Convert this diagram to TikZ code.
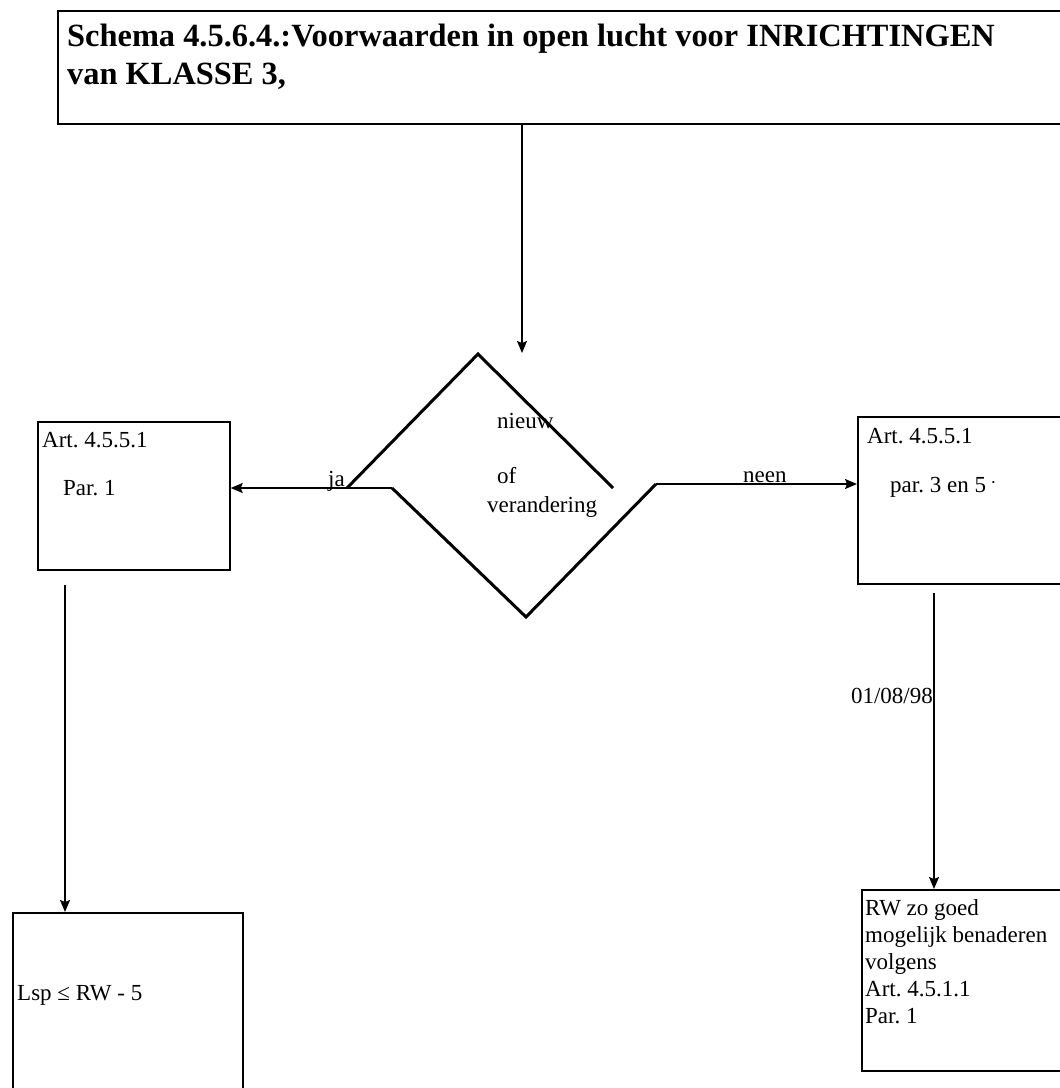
\documentclass[tikz,border=0pt]{standalone}
\usepackage{fontspec}
\setmainfont{Liberation Serif}
\usetikzlibrary{arrows.meta,calc}
\frenchspacing
\tikzset{
  kader/.style={draw=black,line width=1.7pt,inner sep=0pt,anchor=north west}, % box
  pijl/.style={-{Stealth[length=12pt,width=10pt,inset=2pt]},line width=1.6pt}, % connector
  ruitlijn/.style={line width=3pt,line join=miter},                          % diamond
  tekst/.style={anchor=base west,inner sep=0pt,align=left,font=\fontsize{23}{27}\selectfont},
  kop/.style={anchor=base west,inner sep=0pt,align=left,font=\fontsize{32.4}{38}\selectfont\bfseries},
}

\begin{document}
\begin{tikzpicture}[x=1pt,y=-1pt]
  \useasboundingbox (0,0) rectangle (1060,1088);
  \node[kader,minimum width=1012pt,minimum height=113pt] (titel) at (57,10) {};
  \node[kop] (kop) at (67,84) {Schema 4.5.6.4.:Voorwaarden in open lucht voor INRICHTINGEN\\van KLASSE 3,};
  \node[kader,minimum width=192pt,minimum height=148pt] (links) at (37,421) {};
  \node[tekst] (art1) at (42,447) {Art. 4.5.5.1};
  \node[tekst] (par1) at (63,495) {Par. 1};
  \node[kader,minimum width=212pt,minimum height=167pt] (rechts) at (857,416) {};
  \node[tekst] (art2) at (867,443) {Art. 4.5.5.1};
  \node[tekst] (par2) at (890,492) {par. 3 en 5 \raisebox{7pt}{\fontsize{9}{9}\selectfont •}};
  \node[kader,minimum width=230pt,minimum height=190pt] (lsp) at (12,912) {};
  \node[tekst] (lsptekst) at (17,1000) {Lsp ≤ RW - 5};
  \node[kader,minimum width=210pt,minimum height=181pt] (rw) at (861,889) {};
  \node[tekst] (rwtekst) at (865,1023) {RW zo goed\\mogelijk benaderen\\volgens\\Art. 4.5.1.1\\Par. 1};
  \coordinate (ruitin) at (522,353);
  \coordinate (ja) at (392,488);
  \coordinate (neen) at (656,484);
  \draw[ruitlijn] (347,488) -- (478,354) -- (613,488);
  \draw[ruitlijn] (ja) -- (526,617) -- (neen);
  \node[tekst] (nieuw) at (497,428) {nieuw};
  \node[tekst] (of) at (497,483) {of};
  \node[tekst] (verandering) at (487,512) {verandering};
  \draw[pijl] (titel.south -| ruitin) -- (ruitin);
  \draw[pijl] (ja) -- (links.east |- ja);
  \draw[pijl] (neen) -- (rechts.west |- neen);
  \node[tekst] (jalabel) at (328,486) {ja};
  \node[tekst] (neenlabel) at (743,482) {neen};
  \coordinate (l1) at (65,585);
  \draw[pijl] (l1) -- (l1 |- lsp.north);
  \coordinate (r1) at (934,593);
  \draw[pijl] (r1) -- (r1 |- rw.north);
  \node[tekst,anchor=base east] (datum) at (933,703) {01/08/98};
\end{tikzpicture}
\end{document}
